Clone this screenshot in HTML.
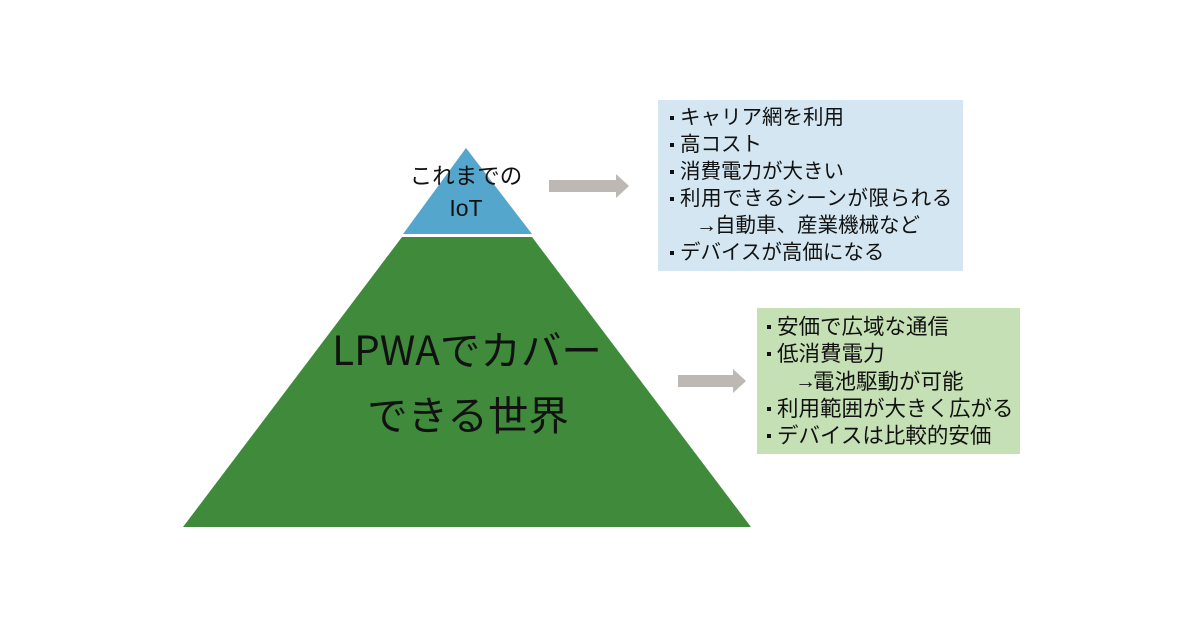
<!DOCTYPE html>
<html><head><meta charset="utf-8">
<style>
html,body{margin:0;padding:0;background:#fff;}
#c{position:relative;width:1200px;height:630px;overflow:hidden;background:#fff;font-family:"Liberation Sans","Noto Sans CJK JP",sans-serif;color:#111;}
.t{position:absolute;white-space:nowrap;}
.b{position:absolute;width:4px;height:4px;background:#111;}
.bx{position:absolute;}
</style></head><body>
<div id="c">
<svg width="1200" height="630" style="position:absolute;left:0;top:0">
  <polygon points="466,148 403,234 532,234" fill="#55a6cd"/>
  <polygon points="402,237 532,237 751,527 183,527" fill="#3f8b3b"/>
  <polygon points="549,180 616,180 616,174 629,186 616,198 616,192 549,192" fill="#bdb8b3"/>
  <polygon points="678,375 733,375 733,369 746,381 733,393 733,387 678,387" fill="#bdb8b3"/>
</svg>

<div class="t" style="left:366px;width:200px;text-align:center;top:163px;font-size:22.5px;line-height:28px;">これまでの</div>
<div class="t" style="left:366px;width:200px;text-align:center;top:194px;font-size:23px;line-height:28px;">IoT</div>

<div class="t" style="left:317px;width:300px;text-align:center;top:325px;font-size:40.5px;line-height:46px;font-family:'Noto Sans CJK JP',sans-serif;">LPWAでカバー</div>
<div class="t" style="left:318px;width:300px;text-align:center;top:390px;font-size:40.5px;line-height:46px;font-family:'Noto Sans CJK JP',sans-serif;">できる世界</div>

<!-- blue box -->
<div class="bx" style="left:658px;top:100px;width:305px;height:171px;background:#d3e6f1;"></div>
<div class="b" style="left:670px;top:116px"></div>
<div class="t" style="left:680px;top:104px;font-size:20.5px;line-height:28px;">キャリア網を利用</div>
<div class="b" style="left:670px;top:143px"></div>
<div class="t" style="left:680px;top:131px;font-size:20.5px;line-height:28px;">高コスト</div>
<div class="b" style="left:670px;top:170px"></div>
<div class="t" style="left:680px;top:158px;font-size:20.5px;line-height:28px;">消費電力が大きい</div>
<div class="b" style="left:670px;top:197px"></div>
<div class="t" style="left:680px;top:185px;font-size:20.5px;line-height:28px;letter-spacing:0.6px;">利用できるシーンが限られる</div>
<div class="t" style="left:696px;top:212px;font-size:21px;line-height:28px;">→</div>
<div class="t" style="left:715px;top:212px;font-size:20.5px;line-height:28px;">自動車、産業機械など</div>
<div class="b" style="left:670px;top:251px"></div>
<div class="t" style="left:680px;top:239px;font-size:20.5px;line-height:28px;">デバイスが高価になる</div>

<!-- green box -->
<div class="bx" style="left:757px;top:308px;width:263px;height:146px;background:#c6e0b5;"></div>
<div class="b" style="left:767px;top:325px"></div>
<div class="t" style="left:777px;top:313px;font-size:21.5px;line-height:28px;">安価で広域な通信</div>
<div class="b" style="left:767px;top:352px"></div>
<div class="t" style="left:777px;top:340px;font-size:21.5px;line-height:28px;">低消費電力</div>
<div class="t" style="left:795px;top:368px;font-size:21px;line-height:28px;">→</div>
<div class="t" style="left:813px;top:368px;font-size:21.5px;line-height:28px;">電池駆動が可能</div>
<div class="b" style="left:767px;top:407px"></div>
<div class="t" style="left:777px;top:395px;font-size:21.5px;line-height:28px;">利用範囲が大きく広がる</div>
<div class="b" style="left:767px;top:434px"></div>
<div class="t" style="left:777px;top:422px;font-size:21.5px;line-height:28px;">デバイスは比較的安価</div>
</div>
</body></html>
